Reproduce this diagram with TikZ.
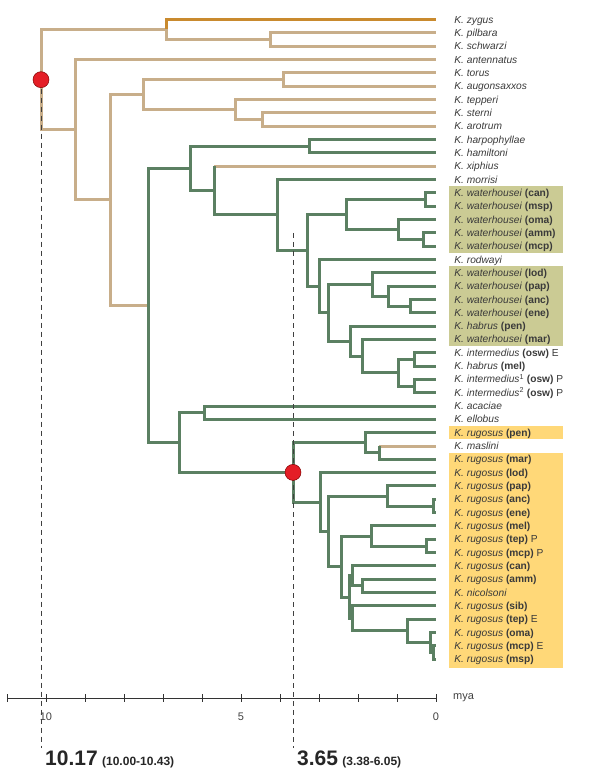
\documentclass[tikz,border=0pt]{standalone}
\usepackage{fontspec}
\setmainfont{Liberation Sans}
\definecolor{brgreen}{HTML}{5B8062}
\definecolor{brtan}{HTML}{C8AE8A}
\definecolor{brorange}{HTML}{C98A2E}
\definecolor{watfill}{HTML}{CBCB94}
\definecolor{rugfill}{HTML}{FFD878}
\definecolor{dotred}{HTML}{E41E26}
\definecolor{txtgray}{HTML}{3A3A3A}
\tikzset{
  br/.style={line width=3pt},
  grn/.style={br, draw=brgreen},
  tanbr/.style={br, draw=brtan},
  orabr/.style={br, draw=brorange},
  tip/.style={inner sep=0pt, minimum size=0pt},
  lab/.style={inner sep=0pt, xshift=18pt, text height=7.3pt, text depth=0pt, text=txtgray,
    font=\fontsize{10.2}{12}\selectfont},
  datum/.style={line width=0.8pt, draw=black!75, dash pattern=on 5pt off 4pt},
  bigdot/.style={circle, fill=dotred, draw=red!50!black, line width=0.5pt, minimum size=16pt, inner sep=0pt},
  axnum/.style={inner sep=0pt, text=black!75, font=\fontsize{11}{13}\selectfont},
  agebig/.style={anchor=base west, inner sep=0pt, text=black!85, font=\bfseries\fontsize{21}{24}\selectfont},
  agesmall/.style={anchor=base west, inner sep=0pt, text=black!85, font=\bfseries\fontsize{12}{14}\selectfont}
}
\begin{document}
\begin{tikzpicture}[x=1pt, y=-1pt]
    \useasboundingbox (0,0) rectangle (600,775);

    % highlighted populations
    \fill[watfill] (449,186.1) rectangle (563,252.8);
    \fill[watfill] (449,266.0) rectangle (563,346.0);
    \fill[rugfill] (449,426.0) rectangle (563,439.3);
    \fill[rugfill] (449,452.6) rectangle (563,668.0);

    % tips
    \node[tip, label={[lab]0:\textit{K. zygus}}] (zyg) at (436,19.5) {};
    \node[tip, label={[lab]0:\textit{K. pilbara}}] (pil) at (436,32.8) {};
    \node[tip, label={[lab]0:\textit{K. schwarzi}}] (sch) at (436,46.2) {};
    \node[tip, label={[lab]0:\textit{K. antennatus}}] (ant) at (436,59.5) {};
    \node[tip, label={[lab]0:\textit{K. torus}}] (tor) at (436,72.8) {};
    \node[tip, label={[lab]0:\textit{K. augonsaxxos}}] (aug) at (436,86.1) {};
    \node[tip, label={[lab]0:\textit{K. tepperi}}] (tep) at (436,99.5) {};
    \node[tip, label={[lab]0:\textit{K. sterni}}] (ste) at (436,112.8) {};
    \node[tip, label={[lab]0:\textit{K. arotrum}}] (aro) at (436,126.1) {};
    \node[tip, label={[lab]0:\textit{K. harpophyllae}}] (har) at (436,139.4) {};
    \node[tip, label={[lab]0:\textit{K. hamiltoni}}] (ham) at (436,152.8) {};
    \node[tip, label={[lab]0:\textit{K. xiphius}}] (xip) at (436,166.1) {};
    \node[tip, label={[lab]0:\textit{K. morrisi}}] (mor) at (436,179.4) {};
    \node[tip, label={[lab]0:\textit{K. waterhousei} \textbf{(can)}}] (wcan) at (436,192.8) {};
    \node[tip, label={[lab]0:\textit{K. waterhousei} \textbf{(msp)}}] (wmsp) at (436,206.1) {};
    \node[tip, label={[lab]0:\textit{K. waterhousei} \textbf{(oma)}}] (woma) at (436,219.4) {};
    \node[tip, label={[lab]0:\textit{K. waterhousei} \textbf{(amm)}}] (wamm) at (436,232.7) {};
    \node[tip, label={[lab]0:\textit{K. waterhousei} \textbf{(mcp)}}] (wmcp) at (436,246.1) {};
    \node[tip, label={[lab]0:\textit{K. rodwayi}}] (rod) at (436,259.4) {};
    \node[tip, label={[lab]0:\textit{K. waterhousei} \textbf{(lod)}}] (wlod) at (436,272.7) {};
    \node[tip, label={[lab]0:\textit{K. waterhousei} \textbf{(pap)}}] (wpap) at (436,286.0) {};
    \node[tip, label={[lab]0:\textit{K. waterhousei} \textbf{(anc)}}] (wanc) at (436,299.4) {};
    \node[tip, label={[lab]0:\textit{K. waterhousei} \textbf{(ene)}}] (wene) at (436,312.7) {};
    \node[tip, label={[lab]0:\textit{K. habrus} \textbf{(pen)}}] (hpen) at (436,326.0) {};
    \node[tip, label={[lab]0:\textit{K. waterhousei} \textbf{(mar)}}] (wmar) at (436,339.3) {};
    \node[tip, label={[lab]0:\textit{K. intermedius} \textbf{(osw)} E}] (iosw) at (436,352.7) {};
    \node[tip, label={[lab]0:\textit{K. habrus} \textbf{(mel)}}] (hmel) at (436,366.0) {};
    \node[tip, label={[lab]0:\textit{K. intermedius}\textsuperscript{1} \textbf{(osw)} P}] (iint1) at (436,379.3) {};
    \node[tip, label={[lab]0:\textit{K. intermedius}\textsuperscript{2} \textbf{(osw)} P}] (iint2) at (436,392.7) {};
    \node[tip, label={[lab]0:\textit{K. acaciae}}] (aca) at (436,406.0) {};
    \node[tip, label={[lab]0:\textit{K. ellobus}}] (ell) at (436,419.3) {};
    \node[tip, label={[lab]0:\textit{K. rugosus} \textbf{(pen)}}] (rpen) at (436,432.7) {};
    \node[tip, label={[lab]0:\textit{K. maslini}}] (mas) at (436,446.0) {};
    \node[tip, label={[lab]0:\textit{K. rugosus} \textbf{(mar)}}] (rmar) at (436,459.3) {};
    \node[tip, label={[lab]0:\textit{K. rugosus} \textbf{(lod)}}] (rlod) at (436,472.6) {};
    \node[tip, label={[lab]0:\textit{K. rugosus} \textbf{(pap)}}] (rpap) at (436,485.9) {};
    \node[tip, label={[lab]0:\textit{K. rugosus} \textbf{(anc)}}] (ranc) at (436,499.3) {};
    \node[tip, label={[lab]0:\textit{K. rugosus} \textbf{(ene)}}] (rene) at (436,512.6) {};
    \node[tip, label={[lab]0:\textit{K. rugosus} \textbf{(mel)}}] (rmel) at (436,525.9) {};
    \node[tip, label={[lab]0:\textit{K. rugosus} \textbf{(tep)} P}] (rtepP) at (436,539.3) {};
    \node[tip, label={[lab]0:\textit{K. rugosus} \textbf{(mcp)} P}] (rmcpP) at (436,552.6) {};
    \node[tip, label={[lab]0:\textit{K. rugosus} \textbf{(can)}}] (rcan) at (436,565.9) {};
    \node[tip, label={[lab]0:\textit{K. rugosus} \textbf{(amm)}}] (ramm) at (436,579.2) {};
    \node[tip, label={[lab]0:\textit{K. nicolsoni}}] (nic) at (436,592.6) {};
    \node[tip, label={[lab]0:\textit{K. rugosus} \textbf{(sib)}}] (rsib) at (436,605.9) {};
    \node[tip, label={[lab]0:\textit{K. rugosus} \textbf{(tep)} E}] (rtepE) at (436,619.2) {};
    \node[tip, label={[lab]0:\textit{K. rugosus} \textbf{(oma)}}] (roma) at (436,632.5) {};
    \node[tip, label={[lab]0:\textit{K. rugosus} \textbf{(mcp)} E}] (rmcpE) at (436,645.9) {};
    \node[tip, label={[lab]0:\textit{K. rugosus} \textbf{(msp)}}] (rmsp) at (436,659.2) {};

    % internal nodes
    \coordinate (root) at (41,79.7);
    \coordinate (nzyg) at (166,29.5);
    \coordinate (nsch) at (270,39.5);
    \coordinate (n75) at (75,129.8);
    \coordinate (n110) at (110,200.0);
    \coordinate (ntt) at (143,94.5);
    \coordinate (ntor) at (283,79.5);
    \coordinate (ntep) at (235,109.5);
    \coordinate (nste) at (262,119.5);
    \coordinate (nn) at (148,305.5);
    \coordinate (nham) at (190,168.3);
    \coordinate (nhar) at (309,146.1);
    \coordinate (nxip) at (214,190.5);
    \coordinate (nmor) at (277,214.9);
    \coordinate (nwat) at (307,250.3);
    \coordinate (nwat1) at (346,214.5);
    \coordinate (nwcan) at (425,199.5);
    \coordinate (nwoma) at (398,229.4);
    \coordinate (nwamm) at (423,239.4);
    \coordinate (nrod) at (319,286.1);
    \coordinate (nwat2) at (328,312.7);
    \coordinate (nwlod) at (372,284.4);
    \coordinate (nwpap) at (388,296.1);
    \coordinate (nwanc) at (410,306.1);
    \coordinate (nhpen) at (350,341.0);
    \coordinate (nwmar) at (362,356.0);
    \coordinate (nhmel) at (398,372.7);
    \coordinate (niosw) at (414,359.4);
    \coordinate (nint) at (414,386.0);
    \coordinate (no) at (179,442.6);
    \coordinate (naca) at (204,412.7);
    \coordinate (nq) at (293,472.4);
    \coordinate (nrpen) at (365,442.7);
    \coordinate (nmas) at (379,452.7);
    \coordinate (nt) at (320,502.0);
    \coordinate (nu) at (328,531.3);
    \coordinate (nrpap) at (387,496.0);
    \coordinate (nrene) at (433,506.0);
    \coordinate (nw) at (341,566.6);
    \coordinate (nrmel) at (371,536.0);
    \coordinate (nrtep) at (426,546.0);
    \coordinate (nbb) at (349,597.2);
    \coordinate (nrcan) at (352,575.9);
    \coordinate (nnic) at (362,585.9);
    \coordinate (nrsib) at (352,618.4);
    \coordinate (nrtepE) at (407,630.9);
    \coordinate (nroma) at (430,642.6);
    \coordinate (nrmcp) at (433,652.6);

    % branches
    \draw[tanbr] (root) |- (nzyg) (root) |- (n75);
    \draw[orabr] (nzyg) |- (zyg);
    \draw[tanbr] (nzyg) |- (nsch);
    \draw[tanbr] (nsch) |- (pil) (nsch) |- (sch);
    \draw[tanbr] (n75) |- (ant) (n75) |- (n110);
    \draw[tanbr] (n110) |- (ntt) (n110) |- (nn);
    \draw[tanbr] (ntt) |- (ntor) (ntt) |- (ntep);
    \draw[tanbr] (ntor) |- (tor) (ntor) |- (aug);
    \draw[tanbr] (ntep) |- (tep) (ntep) |- (nste);
    \draw[tanbr] (nste) |- (ste) (nste) |- (aro);
    \draw[grn] (nn) |- (nham) (nn) |- (no);
    \draw[grn] (nham) |- (nhar) (nham) |- (nxip);
    \draw[grn] (nhar) |- (har) (nhar) |- (ham);
    \draw[tanbr] (nxip |- xip) -- (xip);
    \draw[grn] (nxip) -- (nxip |- xip) (nxip) |- (nmor);
    \draw[grn] (nmor) |- (mor) (nmor) |- (nwat);
    \draw[grn] (nwat) |- (nwat1) (nwat) |- (nrod);
    \draw[grn] (nwat1) |- (nwcan) (nwat1) |- (nwoma);
    \draw[grn] (nwcan) |- (wcan) (nwcan) |- (wmsp);
    \draw[grn] (nwoma) |- (woma) (nwoma) |- (nwamm);
    \draw[grn] (nwamm) |- (wamm) (nwamm) |- (wmcp);
    \draw[grn] (nrod) |- (rod) (nrod) |- (nwat2);
    \draw[grn] (nwat2) |- (nwlod) (nwat2) |- (nhpen);
    \draw[grn] (nwlod) |- (wlod) (nwlod) |- (nwpap);
    \draw[grn] (nwpap) |- (wpap) (nwpap) |- (nwanc);
    \draw[grn] (nwanc) |- (wanc) (nwanc) |- (wene);
    \draw[grn] (nhpen) |- (hpen) (nhpen) |- (nwmar);
    \draw[grn] (nwmar) |- (wmar) (nwmar) |- (nhmel);
    \draw[grn] (nhmel) |- (niosw) (nhmel) |- (nint);
    \draw[grn] (niosw) |- (iosw) (niosw) |- (hmel);
    \draw[grn] (nint) |- (iint1) (nint) |- (iint2);
    \draw[grn] (no) |- (naca) (no) |- (nq);
    \draw[grn] (naca) |- (aca) (naca) |- (ell);
    \draw[grn] (nq) |- (nrpen) (nq) |- (nt);
    \draw[grn] (nrpen) |- (rpen) (nrpen) |- (nmas);
    \draw[tanbr] (nmas |- mas) -- (mas);
    \draw[grn] (nmas) -- (nmas |- mas) (nmas) |- (rmar);
    \draw[grn] (nt) |- (rlod) (nt) |- (nu);
    \draw[grn] (nu) |- (nrpap) (nu) |- (nw);
    \draw[grn] (nrpap) |- (rpap) (nrpap) |- (nrene);
    \draw[grn] (nrene) |- (ranc) (nrene) |- (rene);
    \draw[grn] (nw) |- (nrmel) (nw) |- (nbb);
    \draw[grn] (nrmel) |- (rmel) (nrmel) |- (nrtep);
    \draw[grn] (nrtep) |- (rtepP) (nrtep) |- (rmcpP);
    \draw[grn] (nbb) |- (nrcan) (nbb) |- (nrsib);
    \draw[grn] (nrcan) |- (rcan) (nrcan) |- (nnic);
    \draw[grn] (nnic) |- (ramm) (nnic) |- (nic);
    \draw[grn] (nrsib) |- (rsib) (nrsib) |- (nrtepE);
    \draw[grn] (nrtepE) |- (rtepE) (nrtepE) |- (nroma);
    \draw[grn] (nroma) |- (roma) (nroma) |- (nrmcp);
    \draw[grn] (nrmcp) |- (rmcpE) (nrmcp) |- (rmsp);

    % calibration lines and dated nodes
    \coordinate (d1) at (41,748);
    \coordinate (d2a) at (293,233);
    \coordinate (d2b) at (293,748);
    \draw[datum] (root) -- (d1);
    \draw[datum] (d2a) -- (d2b);
    \node[bigdot] (c1) at (root) {};
    \node[bigdot] (c2) at (nq) {};

    % time axis
    \draw[line width=1pt, black!80] (7,698) -- (436,698);
    \foreach \t in {0,...,11}
        \draw[line width=0.8pt, black!80] (436-39*\t,694) -- (436-39*\t,702);
    \node[axnum] (t10) at (46,717) {10};
    \node[axnum] (t5) at (241,717) {5};
    \node[axnum] (t0) at (436,717) {0};
    \node[axnum, anchor=base west] (mya) at (453,699) {mya};

    \node[agebig] (age1) at (45,765) {10.17};
    \node[agesmall] (ci1) at ([xshift=4pt]age1.base east) {(10.00-10.43)};
    \node[agebig] (age2) at (297,765) {3.65};
    \node[agesmall] (ci2) at ([xshift=4pt]age2.base east) {(3.38-6.05)};
\end{tikzpicture}
\end{document}
